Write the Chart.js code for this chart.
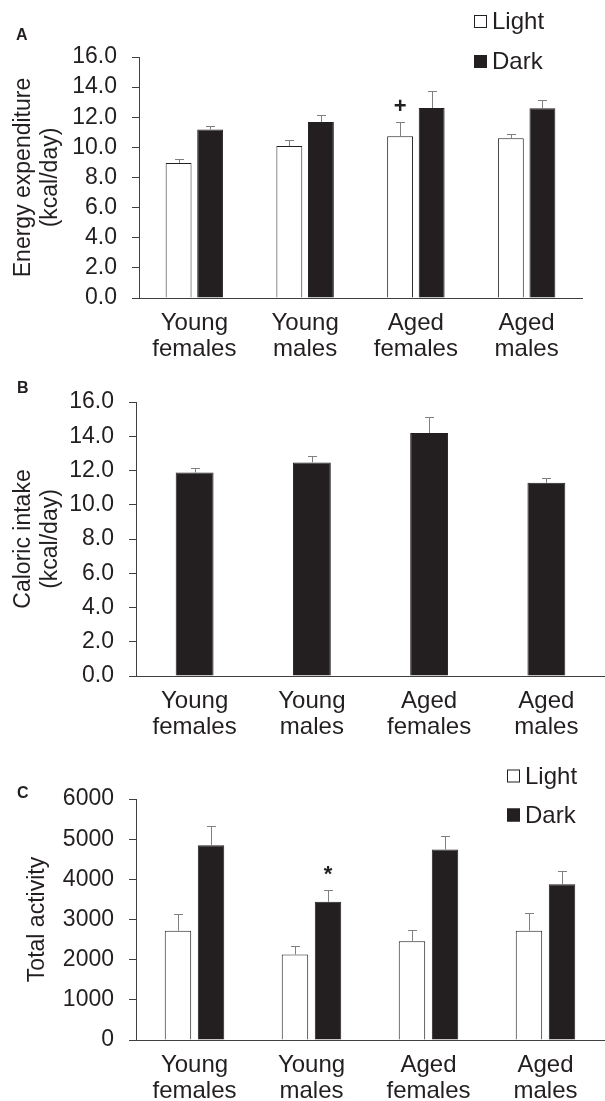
<!DOCTYPE html>
<html>
<head>
<meta charset="utf-8">
<script src="https://cdn.jsdelivr.net/npm/chart.js@4/dist/chart.umd.min.js"></script>
<style>
  html, body { margin: 0; padding: 0; background: #fff; }
  body { width: 605px; height: 1101px; position: relative; overflow: hidden; }
  .panel { position: absolute; left: 0; width: 605px; }
</style>
</head>
<body>
<div class="panel" style="top:0;height:370px"><canvas id="chartA"></canvas></div>
<div class="panel" style="top:360px;height:385px"><canvas id="chartB"></canvas></div>
<div class="panel" style="top:740px;height:361px"><canvas id="chartC"></canvas></div>
<script>
// groups on the x axis
const groups = [["Young", "females"], ["Young", "males"], ["Aged", "females"], ["Aged", "males"]];

// A: energy expenditure (kcal/day), mean and SEM
const energyLight = [8.96, 10.09, 10.74, 10.6];
const energyLightErr = [0.25, 0.38, 0.93, 0.31];
const energyDark = [11.18, 11.68, 12.61, 12.59];
const energyDarkErr = [0.27, 0.46, 1.15, 0.58];
const energyLightMarks = ["", "", "+", ""];

// B: caloric intake (kcal/day)
const intake = [11.88, 12.47, 14.19, 11.28];
const intakeErr = [0.24, 0.39, 0.91, 0.31];

// C: total activity
const activityLight = [2720, 2130, 2460, 2720];
const activityLightErr = [410, 220, 290, 430];
const activityDark = [4850, 3440, 4740, 3880];
const activityDarkErr = [490, 300, 330, 320];
const activityDarkMarks = ["", "*", "", ""];

const INK = "#231f20";
const AXIS = "#404040";
const FONT = "'Liberation Sans', Arial, sans-serif";

Chart.defaults.font.family = FONT;
Chart.defaults.color = INK;
Chart.defaults.animation = false;

// upward error bars plus significance marks
const errorBars = {
  id: "errorBars",
  afterDatasetsDraw(chart) {
    const ctx = chart.ctx;
    const y = chart.scales.y;
    chart.data.datasets.forEach((ds, i) => {
      const meta = chart.getDatasetMeta(i);
      meta.data.forEach((bar, j) => {
        const top = y.getPixelForValue(ds.data[j] + ds.errors[j]);
        ctx.save();
        ctx.strokeStyle = "#808080";
        ctx.lineWidth = 1;
        ctx.beginPath();
        ctx.moveTo(Math.round(bar.x) + 0.5, bar.y);
        ctx.lineTo(Math.round(bar.x) + 0.5, Math.round(top) + 0.5);
        ctx.moveTo(Math.round(bar.x) - 4, Math.round(top) + 0.5);
        ctx.lineTo(Math.round(bar.x) + 5, Math.round(top) + 0.5);
        ctx.stroke();
        if (ds.marks && ds.marks[j]) {
          ctx.fillStyle = INK;
          ctx.textAlign = "center";
          ctx.textBaseline = "middle";
          ctx.font = "bold 22px " + FONT;
          ctx.fillText(ds.marks[j], bar.x, top - 15);
        }
        ctx.restore();
      });
    });
  }
};

// stacked legend in the upper right corner
const boxLegend = {
  id: "boxLegend",
  afterDraw(chart, args, opts) {
    if (!opts.show) return;
    const ctx = chart.ctx;
    chart.data.datasets.forEach((ds, i) => {
      const cy = opts.y + i * opts.gap;
      ctx.save();
      ctx.fillStyle = ds.backgroundColor;
      ctx.fillRect(opts.x, cy - 6.5, 13, 13);
      ctx.strokeStyle = INK;
      ctx.lineWidth = 1;
      ctx.strokeRect(opts.x + 0.5, cy - 6, 12, 12);
      ctx.fillStyle = INK;
      ctx.font = "24px " + FONT;
      ctx.textBaseline = "middle";
      ctx.fillText(ds.label, opts.x + 18, cy + 1);
      ctx.restore();
    });
  }
};

// panel letter
const panelTag = {
  id: "panelTag",
  afterDraw(chart, args, opts) {
    const ctx = chart.ctx;
    ctx.save();
    ctx.fillStyle = INK;
    ctx.font = "bold 16px " + FONT;
    ctx.textBaseline = "alphabetic";
    ctx.fillText(opts.text, opts.x, opts.y);
    ctx.restore();
  }
};

function makeChart(id, cfg) {
  return new Chart(document.getElementById(id), {
    type: "bar",
    data: { labels: groups, datasets: cfg.datasets },
    plugins: [errorBars, boxLegend, panelTag],
    options: {
      responsive: true,
      maintainAspectRatio: false,
      layout: { padding: { top: cfg.top, right: cfg.right, bottom: 0, left: 0 } },
      datasets: { bar: { categoryPercentage: cfg.cat, barPercentage: cfg.bar } },
      plugins: {
        legend: { display: false },
        tooltip: { enabled: false },
        boxLegend: cfg.legend,
        panelTag: cfg.tag
      },
      scales: {
        x: {
          grid: { display: false },
          border: { display: true, color: AXIS, width: 1 },
          ticks: {
            color: INK,
            font: { size: 24, lineHeight: 1.1 },
            padding: 4,
            maxRotation: 0,
            autoSkip: false
          },
          afterFit(scale) { scale.height = cfg.xHeight; }
        },
        y: {
          min: 0,
          max: cfg.max,
          grid: { drawOnChartArea: false, drawTicks: true, tickLength: 7, color: AXIS, lineWidth: 1 },
          border: { display: true, color: AXIS, width: 1 },
          ticks: {
            stepSize: cfg.step,
            autoSkip: false,
            color: INK,
            font: { size: 23 },
            padding: 15,
            callback: cfg.fmt
          },
          title: {
            display: true,
            text: cfg.title,
            color: INK,
            font: { size: 23, lineHeight: 1.17 },
            padding: { top: cfg.titlePad, bottom: 0 }
          },
          afterFit(scale) { scale.width = cfg.yWidth; }
        }
      }
    }
  });
}

const oneDecimal = (v) => v.toFixed(1);
const plain = (v) => String(v);

makeChart("chartA", {
  datasets: [
    { label: "Light", data: energyLight, errors: energyLightErr, marks: energyLightMarks,
      backgroundColor: "#ffffff", borderColor: INK, borderWidth: 1 },
    { label: "Dark", data: energyDark, errors: energyDarkErr,
      backgroundColor: INK, borderColor: INK, borderWidth: 1 }
  ],
  top: 57, right: 23, xHeight: 72, yWidth: 139,
  cat: 0.57, bar: 0.82,
  max: 16, step: 2, fmt: oneDecimal,
  title: ["Energy expenditure", "(kcal/day)"], titlePad: 10,
  legend: { show: true, x: 474, y: 21.5, gap: 40 },
  tag: { text: "A", x: 16, y: 40 }
});

makeChart("chartB", {
  datasets: [
    { label: "Intake", data: intake, errors: intakeErr,
      backgroundColor: INK, borderColor: INK, borderWidth: 1 }
  ],
  top: 42, right: 0, xHeight: 69, yWidth: 136,
  cat: 1, bar: 0.323,
  max: 16, step: 2, fmt: oneDecimal,
  title: ["Caloric intake", "(kcal/day)"], titlePad: 10,
  legend: { show: false },
  tag: { text: "B", x: 17, y: 33 }
});

makeChart("chartC", {
  datasets: [
    { label: "Light", data: activityLight, errors: activityLightErr,
      backgroundColor: "#ffffff", borderColor: INK, borderWidth: 1 },
    { label: "Dark", data: activityDark, errors: activityDarkErr, marks: activityDarkMarks,
      backgroundColor: INK, borderColor: INK, borderWidth: 1 }
  ],
  top: 59, right: 1, xHeight: 61, yWidth: 136,
  cat: 0.565, bar: 0.8,
  max: 6000, step: 1000, fmt: plain,
  title: "Total activity", titlePad: 24,
  legend: { show: true, x: 507, y: 36, gap: 39 },
  tag: { text: "C", x: 17, y: 58 }
});
</script>
</body>
</html>
